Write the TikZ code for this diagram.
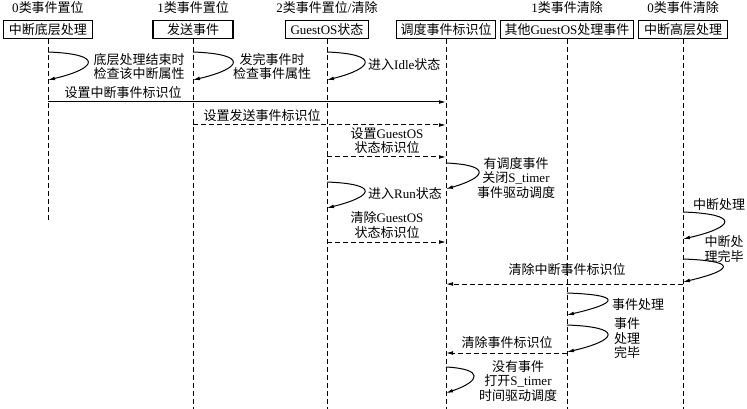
\documentclass[tikz,border=0pt]{standalone}
\usepackage{fontspec}
\setmainfont{Noto Sans CJK SC}
\newfontfamily\latinfont{Liberation Serif}
\newcommand\lt[1]{{\latinfont #1}}
\usetikzlibrary{arrows.meta}
\tikzset{
  life/.style={line width=1pt, dash pattern=on 5pt off 3pt},
  objbox/.style={draw, line width=1.1pt, minimum height=18pt, inner xsep=3pt, inner ysep=0pt},
  msg/.style={line width=1pt, -{Latex[length=7pt,width=3.8pt]}},
  dmsg/.style={msg, dash pattern=on 5pt off 3pt},
  lbl/.style={inner sep=0pt, align=center},
}
\newcommand\selfarrow[3]{\draw[msg] (#1) .. controls +(#3,2) and +(#3*0.92,-12) .. (#2);}
\begin{document}
\begin{tikzpicture}[x=1pt,y=-1pt,font=\fontsize{13}{14.5}\selectfont]
\useasboundingbox[fill=white] (0,0) rectangle (747,409);
% headers
\node[lbl] (h1) at (48,8) {\lt{0}类事件置位};
\node[lbl] (h2) at (193,8) {\lt{1}类事件置位};
\node[lbl] (h3) at (327,8) {\lt{2}类事件置位\lt{/}清除};
\node[lbl] (h5) at (567,8) {\lt{1}类事件清除};
\node[lbl] (h6) at (683,8) {\lt{0}类事件清除};
% boxes
\node[objbox, minimum width=89pt] (b1) at (48,29.5) {中断底层处理};
\node[objbox, minimum width=80pt] (b2) at (193,29.5) {发送事件};
\node[objbox, minimum width=83pt] (b3) at (327,29.5) {\lt{GuestOS}状态};
\node[objbox, minimum width=99pt] (b4) at (446,29.5) {调度事件标识位};
\node[objbox, minimum width=133pt] (b5) at (567,29.5) {其他\lt{GuestOS}处理事件};
\node[objbox, minimum width=89pt] (b6) at (683,29.5) {中断高层处理};
% lifelines
\coordinate (e1) at (48,223);
\coordinate (e2) at (193,409);
\coordinate (e3) at (327,409);
\coordinate (e4) at (446,409);
\coordinate (e5) at (567,409);
\coordinate (e6) at (683,409);
\draw[life] (b1.south) -- (e1);
\draw[life] (b2.south) -- (e2);
\draw[life] (b3.south) -- (e3);
\draw[life] (b4.south) -- (e4);
\draw[life] (b5.south) -- (e5);
\draw[life] (b6.south) -- (e6);
% self arrows top row
\coordinate (s1a) at (48,52); \coordinate (s1b) at (48,80);
\selfarrow{s1a}{s1b}{55}
\node[lbl] (l1) at (139,66.5) {底层处理结束时\\检查该中断属性};
\coordinate (s2a) at (193,52); \coordinate (s2b) at (193,80);
\selfarrow{s2a}{s2b}{55}
\node[lbl] (l2) at (272,66.5) {发完事件时\\检查事件属性};
\coordinate (s3a) at (327,52); \coordinate (s3b) at (327,80);
\selfarrow{s3a}{s3b}{52}
\node[lbl, anchor=west] (l3) at (368,65) {进入\lt{Idle}状态};
% messages
\coordinate (m1a) at (48,102); \coordinate (m1b) at (446,102);
\draw[msg] (m1a) -- (m1b);
\node[lbl] (l4) at (123,93) {设置中断事件标识位};
\coordinate (m2a) at (193,125); \coordinate (m2b) at (446,125);
\draw[dmsg] (m2a) -- (m2b);
\node[lbl] (l5) at (262,116) {设置发送事件标识位};
\coordinate (m3a) at (327,157); \coordinate (m3b) at (446,157);
\draw[dmsg] (m3a) -- (m3b);
\node[lbl] (l6) at (387,140.5) {设置\lt{GuestOS}\\状态标识位};
\coordinate (s4a) at (446,163); \coordinate (s4b) at (446,189);
\selfarrow{s4a}{s4b}{45}
\node[lbl] (l7) at (516,178) {有调度事件\\关闭\lt{S\_timer}\\事件驱动调度};
\coordinate (s5a) at (327,182); \coordinate (s5b) at (327,208);
\selfarrow{s5a}{s5b}{52}
\node[lbl, anchor=west] (l8) at (368,194) {进入\lt{Run}状态};
\coordinate (m4a) at (327,242); \coordinate (m4b) at (446,242);
\draw[dmsg] (m4a) -- (m4b);
\node[lbl] (l9) at (387,225) {清除\lt{GuestOS}\\状态标识位};
\coordinate (s6a) at (683,212); \coordinate (s6b) at (683,239);
\selfarrow{s6a}{s6b}{57}
\node[lbl] (l10) at (719,205) {中断处理};
\coordinate (s7a) at (683,259); \coordinate (s7b) at (683,282);
\selfarrow{s7a}{s7b}{55}
\node[lbl] (l11) at (724,249) {中断处\\理完毕};
\coordinate (m5a) at (683,284); \coordinate (m5b) at (446,284);
\draw[dmsg] (m5a) -- (m5b);
\node[lbl] (l12) at (567,270) {清除中断事件标识位};
\coordinate (s8a) at (567,293); \coordinate (s8b) at (567,315);
\selfarrow{s8a}{s8b}{56}
\node[lbl] (l13) at (638,305) {事件处理};
\coordinate (s9a) at (567,325); \coordinate (s9b) at (567,352);
\selfarrow{s9a}{s9b}{56}
\node[lbl] (l14) at (627,338.5) {事件\\处理\\完毕};
\coordinate (m6a) at (567,353); \coordinate (m6b) at (446,353);
\draw[dmsg] (m6a) -- (m6b);
\node[lbl] (l15) at (507,343) {清除事件标识位};
\coordinate (s10a) at (446,367); \coordinate (s10b) at (446,393);
\selfarrow{s10a}{s10b}{38}
\node[lbl] (l16) at (518,381) {没有事件\\打开\lt{S\_timer}\\时间驱动调度};
\end{tikzpicture}
\end{document}
